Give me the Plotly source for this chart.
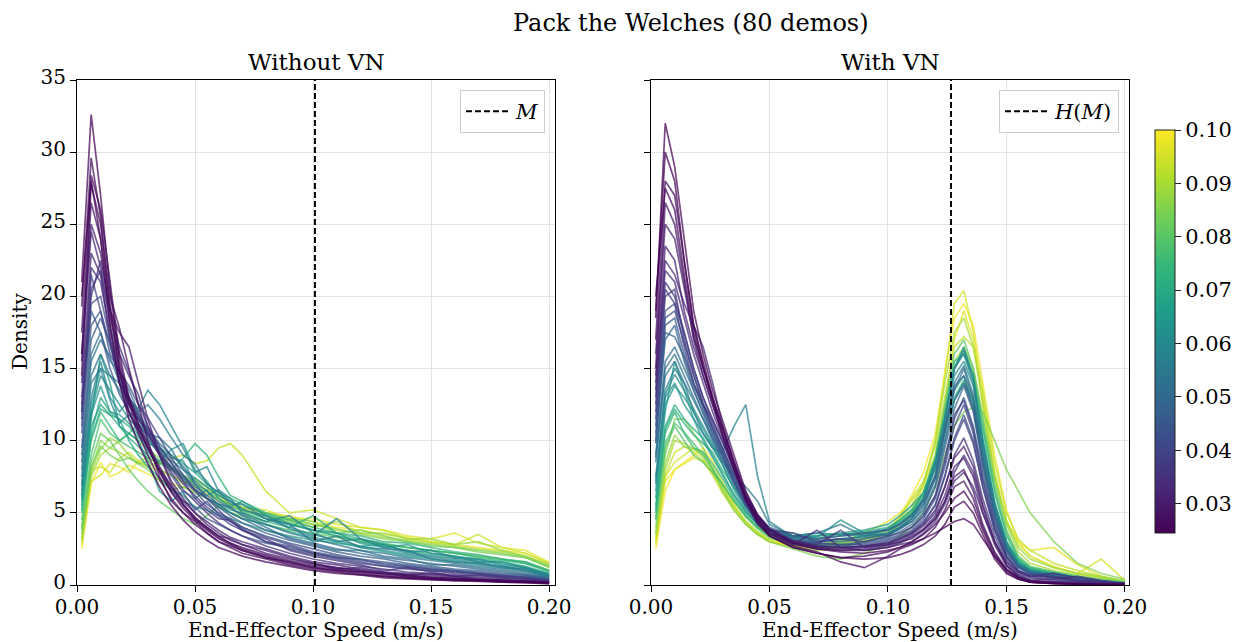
import plotly.graph_objects as go
from plotly.colors import sample_colorscale

# ---------------- data ----------------
TITLE = "Pack the Welches (80 demos)"
PANEL_TITLES = ["Without VN", "With VN"]
X_LABEL = "End-Effector Speed (m/s)"
Y_LABEL = "Density"
CMIN, CMAX = 0.0245, 0.1
CBAR_TICKS = [0.03, 0.04, 0.05, 0.06, 0.07, 0.08, 0.09, 0.10]
X_TICKS = [0.00, 0.05, 0.10, 0.15, 0.20]
Y_TICKS = [0, 5, 10, 15, 20, 25, 30, 35]
M_LEFT = 0.1008      # M
M_RIGHT = 0.1266     # H(M)

LX = [0.002, 0.006, 0.010, 0.014, 0.018, 0.022, 0.026, 0.030, 0.035, 0.040,
      0.045, 0.050, 0.055, 0.060, 0.065, 0.070, 0.080, 0.090, 0.100, 0.110,
      0.120, 0.130, 0.140, 0.150, 0.160, 0.170, 0.180, 0.190, 0.200]

left_c = [0.025, 0.026, 0.027, 0.028, 0.030, 0.032, 0.035, 0.038, 0.041, 0.044,
          0.047, 0.050, 0.054, 0.058, 0.062, 0.066, 0.070, 0.074, 0.078, 0.082,
          0.086, 0.090, 0.094, 0.098,
          0.025, 0.028, 0.033, 0.036, 0.040, 0.045, 0.052, 0.056, 0.060, 0.064,
          0.068, 0.072, 0.084, 0.088, 0.096]
left_y = [
    [21.0, 32.6, 27.0, 20.5, 15.5, 12.8, 11.0, 9.6, 7.8, 6.4, 5.3, 4.5, 3.8, 3.2, 2.8, 2.4, 1.9, 1.5, 1.2, 1.0, 0.8, 0.6, 0.5, 0.4, 0.35, 0.3, 0.25, 0.2, 0.15],
    [19.3, 29.6, 25.5, 19.0, 14.8, 12.0, 10.5, 9.0, 7.3, 6.0, 5.0, 4.2, 3.6, 3.0, 2.6, 2.2, 1.8, 1.4, 1.1, 0.9, 0.7, 0.6, 0.5, 0.4, 0.3, 0.3, 0.2, 0.2, 0.1],
    [17.5, 28.4, 26.0, 21.0, 16.0, 13.0, 11.2, 9.8, 8.2, 6.8, 5.6, 4.7, 4.0, 3.4, 2.9, 2.5, 2.0, 1.6, 1.3, 1.1, 0.9, 0.7, 0.6, 0.5, 0.4, 0.35, 0.3, 0.2, 0.15],
    [16.0, 26.5, 24.0, 19.5, 15.0, 12.5, 10.8, 9.5, 7.9, 6.5, 5.5, 4.6, 3.9, 3.3, 2.9, 2.6, 2.1, 1.7, 1.4, 1.2, 1.0, 0.8, 0.6, 0.5, 0.4, 0.35, 0.3, 0.25, 0.2],
    [15.5, 25.0, 23.0, 19.0, 17.5, 16.5, 14.0, 11.5, 9.0, 7.2, 6.0, 5.0, 4.2, 3.6, 3.1, 2.8, 2.2, 1.8, 1.5, 1.2, 1.0, 0.8, 0.7, 0.6, 0.5, 0.4, 0.3, 0.25, 0.2],
    [14.0, 23.0, 21.5, 17.0, 14.0, 12.0, 10.8, 9.5, 8.0, 6.8, 5.8, 5.0, 4.4, 3.8, 3.3, 3.0, 2.5, 2.0, 1.6, 1.4, 1.1, 0.9, 0.8, 0.7, 0.6, 0.5, 0.4, 0.3, 0.2],
    [13.0, 22.0, 21.0, 17.5, 14.5, 12.5, 11.5, 10.5, 9.0, 7.8, 6.6, 5.8, 5.0, 4.3, 3.8, 3.4, 2.7, 2.2, 1.8, 1.5, 1.3, 1.1, 0.9, 0.8, 0.7, 0.6, 0.5, 0.4, 0.3],
    [12.0, 20.5, 21.8, 18.0, 15.0, 13.0, 11.8, 10.6, 9.2, 8.0, 7.0, 6.2, 5.4, 4.8, 4.2, 3.8, 3.0, 2.5, 2.1, 1.8, 1.5, 1.3, 1.1, 1.0, 0.8, 0.7, 0.6, 0.5, 0.3],
    [11.0, 19.5, 20.0, 17.0, 14.5, 13.0, 11.6, 10.4, 9.3, 8.1, 7.2, 6.5, 5.6, 5.0, 4.6, 4.0, 3.3, 2.8, 2.3, 2.0, 1.7, 1.5, 1.3, 1.1, 1.0, 0.8, 0.7, 0.5, 0.3],
    [10.5, 18.0, 19.0, 16.5, 14.2, 12.8, 11.5, 10.5, 9.0, 7.6, 6.4, 5.2, 5.8, 4.9, 4.4, 4.0, 3.4, 2.9, 2.5, 2.1, 1.8, 1.6, 1.4, 1.2, 1.0, 0.9, 0.7, 0.6, 0.4],
    [9.5, 17.0, 18.5, 16.8, 14.0, 12.6, 11.2, 10.2, 9.0, 8.2, 7.4, 6.6, 6.0, 5.4, 4.8, 4.3, 3.6, 3.1, 2.7, 2.3, 2.0, 1.8, 1.5, 1.3, 1.1, 1.0, 0.8, 0.7, 0.4],
    [9.0, 16.0, 17.5, 15.5, 14.8, 13.5, 12.0, 10.8, 9.5, 8.4, 7.6, 6.8, 6.2, 5.6, 5.0, 4.6, 3.8, 3.3, 2.9, 2.5, 2.2, 1.9, 1.7, 1.5, 1.3, 1.1, 0.9, 0.7, 0.5],
    [8.0, 14.5, 16.0, 14.5, 13.5, 12.0, 11.5, 10.8, 9.8, 9.0, 8.2, 7.2, 6.5, 5.8, 5.3, 4.9, 4.2, 3.6, 3.2, 2.8, 2.4, 2.2, 1.9, 1.7, 1.5, 1.3, 1.1, 0.9, 0.5],
    [7.0, 13.0, 15.5, 13.0, 12.0, 12.8, 12.2, 13.5, 12.5, 11.0, 9.5, 7.8, 8.2, 6.5, 5.8, 5.2, 4.8, 3.9, 3.4, 4.6, 3.2, 2.6, 2.2, 2.0, 1.8, 1.6, 1.3, 1.0, 0.6],
    [6.5, 12.0, 14.5, 13.5, 12.5, 11.5, 10.8, 10.0, 9.2, 8.6, 8.0, 7.4, 6.8, 6.2, 5.8, 5.3, 4.6, 4.0, 3.5, 3.1, 2.7, 2.4, 2.1, 1.9, 1.7, 1.5, 1.3, 1.1, 0.7],
    [6.0, 11.5, 16.0, 14.0, 11.0, 10.5, 10.0, 8.6, 6.5, 5.8, 6.5, 6.0, 6.6, 5.4, 5.0, 4.6, 4.2, 3.7, 3.3, 3.0, 2.6, 2.3, 2.0, 1.8, 1.6, 1.4, 1.2, 1.0, 0.6],
    [5.5, 10.5, 13.0, 12.0, 11.5, 11.0, 10.2, 9.8, 9.5, 9.0, 8.4, 7.8, 7.0, 6.4, 6.0, 5.6, 4.9, 4.3, 3.8, 3.4, 3.0, 2.7, 2.4, 2.2, 2.0, 1.8, 1.6, 1.3, 0.8],
    [5.0, 10.0, 12.0, 11.0, 10.0, 10.5, 11.2, 10.5, 9.0, 8.0, 8.8, 9.8, 9.0, 7.5, 6.2, 5.8, 5.0, 4.5, 4.0, 3.6, 3.2, 2.9, 2.6, 2.4, 2.2, 1.9, 1.7, 1.5, 0.9],
    [4.5, 9.0, 11.5, 10.5, 10.0, 9.6, 9.2, 8.8, 8.4, 8.0, 7.6, 7.0, 6.5, 6.0, 5.5, 5.1, 4.6, 4.2, 3.8, 3.4, 3.1, 2.8, 2.6, 2.4, 2.2, 2.0, 1.8, 1.5, 1.0],
    [4.0, 8.5, 10.5, 10.0, 9.0, 8.0, 7.2, 6.5, 5.8, 5.2, 4.6, 4.2, 4.8, 5.5, 5.0, 4.6, 4.2, 3.8, 3.6, 3.3, 3.0, 2.8, 2.6, 2.4, 2.2, 2.0, 1.8, 1.6, 1.0],
    [3.5, 8.0, 10.0, 9.5, 10.0, 10.5, 10.0, 9.4, 8.8, 8.2, 7.6, 7.2, 6.8, 6.2, 5.8, 5.4, 5.0, 4.6, 4.2, 3.9, 3.5, 3.2, 3.0, 2.8, 2.6, 2.4, 2.2, 1.9, 1.2],
    [3.0, 7.5, 9.0, 9.5, 9.2, 8.8, 8.5, 8.2, 8.6, 8.0, 7.4, 7.0, 6.6, 6.2, 5.6, 5.2, 4.8, 4.5, 4.2, 3.8, 3.6, 3.3, 3.1, 2.9, 2.7, 2.5, 2.3, 2.0, 1.3],
    [4.0, 8.0, 8.2, 7.8, 8.8, 9.2, 8.6, 8.8, 8.4, 8.8, 9.0, 8.4, 8.6, 9.5, 9.8, 9.0, 6.5, 5.0, 5.2, 4.6, 4.0, 3.8, 3.2, 3.0, 2.8, 3.5, 2.6, 2.2, 1.5],
    [2.5, 7.0, 8.5, 7.5, 7.8, 8.3, 8.0, 7.7, 7.3, 7.0, 6.8, 6.5, 6.2, 6.0, 5.6, 5.3, 5.0, 4.8, 4.4, 4.0, 3.8, 3.5, 3.3, 3.0, 2.8, 2.6, 2.4, 2.2, 1.5],
    [20.0, 28.0, 24.0, 18.0, 14.0, 11.5, 9.8, 8.4, 6.8, 5.5, 4.5, 3.7, 3.1, 2.6, 2.3, 2.0, 1.6, 1.3, 1.0, 0.8, 0.7, 0.5, 0.4, 0.35, 0.3, 0.25, 0.2, 0.15, 0.1],
    [14.5, 27.8, 25.0, 20.0, 17.8, 15.0, 12.5, 10.0, 7.5, 5.8, 5.0, 4.4, 3.6, 3.0, 2.7, 2.4, 1.9, 1.6, 1.2, 1.0, 0.9, 0.8, 0.7, 0.5, 0.4, 0.35, 0.3, 0.25, 0.2],
    [16.0, 24.5, 22.0, 18.5, 16.0, 14.5, 13.2, 11.0, 9.0, 7.0, 5.6, 4.6, 4.0, 3.4, 3.2, 2.8, 2.4, 1.9, 1.5, 1.1, 1.2, 0.9, 0.7, 0.8, 0.6, 0.4, 0.3, 0.3, 0.2],
    [12.5, 20.0, 22.5, 19.0, 16.5, 14.8, 12.6, 11.0, 9.6, 8.5, 7.2, 6.0, 5.2, 4.6, 4.5, 3.8, 3.2, 2.4, 2.0, 1.7, 1.4, 1.0, 1.2, 0.9, 0.6, 0.7, 0.5, 0.4, 0.2],
    [11.5, 21.5, 19.0, 16.0, 14.8, 13.8, 12.5, 11.6, 10.2, 8.8, 7.6, 6.6, 6.0, 5.2, 4.4, 3.9, 3.0, 2.7, 2.2, 1.9, 1.6, 1.3, 1.2, 1.0, 0.9, 0.8, 0.6, 0.5, 0.3],
    [12.0, 19.0, 17.5, 15.0, 13.2, 12.0, 10.6, 9.4, 8.0, 6.6, 5.8, 5.4, 4.6, 4.2, 3.8, 3.4, 2.9, 2.6, 2.2, 1.9, 1.8, 1.4, 1.3, 1.1, 0.9, 0.8, 0.6, 0.6, 0.4],
    [8.5, 15.5, 17.0, 15.8, 14.0, 12.5, 11.8, 10.5, 10.2, 9.4, 8.0, 7.0, 6.0, 5.6, 5.4, 4.8, 4.0, 3.2, 2.8, 2.4, 2.4, 2.0, 1.8, 1.4, 1.4, 1.2, 1.0, 0.8, 0.5],
    [7.5, 14.0, 15.0, 14.5, 14.0, 13.0, 12.0, 12.5, 11.5, 10.2, 9.0, 8.4, 7.0, 6.4, 5.6, 5.6, 4.6, 4.2, 3.0, 3.4, 2.6, 2.5, 2.4, 1.8, 1.6, 1.5, 1.2, 1.1, 0.6],
    [6.8, 12.5, 15.0, 12.8, 11.2, 11.8, 11.0, 10.4, 9.4, 8.8, 8.6, 7.0, 6.2, 6.6, 6.0, 5.0, 4.4, 4.8, 3.6, 3.0, 3.2, 2.8, 2.3, 2.4, 1.9, 1.8, 1.4, 1.2, 0.7],
    [6.2, 11.8, 13.8, 12.0, 11.8, 11.2, 10.4, 9.2, 8.6, 9.4, 9.8, 8.0, 7.2, 6.0, 5.4, 5.8, 4.8, 4.2, 3.8, 3.6, 2.9, 2.6, 2.8, 2.2, 2.0, 1.6, 1.6, 1.2, 0.7],
    [5.8, 11.0, 12.5, 11.8, 11.5, 10.0, 9.0, 8.2, 7.4, 6.6, 6.2, 5.4, 5.2, 4.8, 4.6, 4.3, 3.8, 3.4, 3.1, 2.9, 2.7, 2.8, 2.3, 2.1, 1.9, 1.7, 1.5, 1.2, 0.8],
    [5.2, 10.2, 12.2, 11.8, 11.0, 10.2, 9.6, 9.0, 8.5, 8.2, 7.4, 6.6, 6.0, 5.6, 5.2, 5.0, 4.4, 4.0, 4.8, 3.6, 3.4, 3.0, 2.9, 2.6, 2.3, 2.1, 1.8, 1.6, 1.0],
    [3.8, 8.2, 9.6, 9.0, 8.6, 8.8, 8.4, 8.0, 7.2, 6.6, 6.8, 6.4, 6.0, 5.4, 5.0, 4.8, 4.4, 4.6, 4.4, 3.6, 3.8, 3.4, 3.0, 2.7, 2.6, 2.3, 2.1, 1.9, 1.3],
    [3.2, 7.8, 9.4, 10.2, 9.8, 9.0, 8.4, 8.6, 8.0, 7.6, 7.0, 7.4, 6.8, 6.0, 5.4, 5.2, 4.8, 4.4, 4.0, 4.4, 3.6, 3.6, 3.2, 3.2, 2.8, 3.0, 2.4, 2.0, 1.4],
    [2.8, 7.2, 7.6, 8.4, 8.2, 7.8, 8.6, 8.2, 7.9, 7.6, 7.2, 6.8, 6.4, 5.8, 5.6, 5.4, 5.2, 4.6, 4.6, 4.2, 4.0, 3.8, 3.4, 3.2, 3.6, 2.9, 2.6, 2.4, 1.6],
]

RX = [0.002, 0.006, 0.010, 0.014, 0.018, 0.022, 0.026, 0.030, 0.035, 0.040,
      0.045, 0.050, 0.060, 0.070, 0.080, 0.090, 0.100, 0.105, 0.110, 0.115,
      0.120, 0.124, 0.128, 0.132, 0.136, 0.140, 0.145, 0.150, 0.155, 0.160,
      0.170, 0.180, 0.190, 0.200]

right_c = [0.025, 0.026, 0.027, 0.029, 0.031, 0.033, 0.036, 0.039, 0.042, 0.045,
           0.048, 0.051, 0.054, 0.058, 0.062, 0.066, 0.070, 0.075, 0.080, 0.085,
           0.090, 0.095, 0.099,
           0.025, 0.030, 0.034, 0.038, 0.043, 0.047, 0.053, 0.060, 0.064, 0.072,
           0.078, 0.088, 0.093, 0.097]
right_y = [
    [18.5, 32.0, 29.0, 24.0, 19.0, 16.0, 13.5, 11.5, 9.0, 6.5, 4.8, 3.8, 2.9, 2.5, 2.3, 2.2, 2.4, 2.6, 2.9, 3.2, 3.6, 4.0, 4.4, 4.6, 4.2, 3.2, 2.0, 1.1, 0.5, 0.2, 0.1, 0.05, 0.03, 0.02],
    [20.0, 27.5, 26.0, 21.5, 17.5, 15.0, 12.8, 10.5, 8.0, 5.8, 4.2, 3.4, 2.6, 2.2, 1.9, 2.0, 2.3, 2.6, 3.0, 3.5, 4.2, 5.0, 6.0, 6.5, 5.5, 3.8, 2.0, 0.9, 0.4, 0.2, 0.1, 0.05, 0.03, 0.02],
    [17.0, 28.0, 27.0, 22.5, 18.0, 15.5, 13.0, 11.0, 8.5, 6.0, 4.5, 3.5, 2.7, 2.3, 1.6, 1.2, 2.0, 2.5, 2.8, 3.2, 4.0, 5.2, 6.8, 7.2, 6.0, 4.0, 2.2, 1.0, 0.5, 0.2, 0.1, 0.05, 0.03, 0.02],
    [15.0, 26.5, 25.0, 21.0, 17.0, 14.5, 12.5, 10.5, 8.2, 6.2, 4.6, 3.6, 2.8, 2.5, 2.4, 2.4, 2.6, 2.9, 3.3, 3.8, 4.6, 5.8, 7.5, 8.0, 6.5, 4.2, 2.3, 1.1, 0.5, 0.3, 0.15, 0.1, 0.05, 0.03],
    [14.5, 23.5, 22.5, 19.0, 16.5, 14.5, 12.5, 10.5, 8.0, 6.0, 4.6, 3.6, 2.9, 2.6, 2.5, 2.6, 2.8, 3.0, 3.4, 3.9, 4.8, 6.2, 8.2, 8.8, 7.5, 5.0, 2.8, 1.3, 0.6, 0.3, 0.2, 0.1, 0.05, 0.03],
    [13.5, 22.5, 21.5, 19.5, 18.0, 16.5, 14.0, 11.2, 8.5, 6.2, 4.8, 3.8, 3.0, 2.6, 2.4, 2.5, 2.7, 3.0, 3.2, 3.8, 4.6, 5.8, 7.8, 9.0, 7.8, 5.4, 3.0, 1.4, 0.7, 0.4, 0.4, 0.6, 0.3, 0.1],
    [13.0, 21.0, 20.0, 17.5, 15.0, 13.0, 11.5, 10.0, 8.0, 6.2, 4.8, 3.9, 3.1, 2.8, 3.8, 2.6, 2.8, 3.1, 3.5, 4.1, 5.0, 6.8, 9.0, 10.2, 8.6, 6.0, 3.4, 1.6, 0.8, 0.5, 0.3, 0.2, 0.1, 0.05],
    [12.0, 20.0, 20.5, 17.0, 14.5, 12.5, 11.0, 9.6, 7.8, 6.0, 4.7, 3.8, 3.0, 2.7, 2.6, 2.7, 3.0, 3.3, 3.7, 4.4, 5.5, 7.5, 10.0, 11.5, 9.8, 6.8, 3.8, 1.8, 0.9, 0.6, 0.4, 0.2, 0.1, 0.05],
    [11.5, 19.0, 19.5, 17.5, 15.0, 13.0, 11.2, 9.5, 7.5, 5.8, 4.6, 3.8, 3.1, 2.9, 2.8, 2.8, 3.1, 3.4, 3.8, 4.6, 6.0, 8.2, 11.0, 12.5, 10.5, 7.2, 4.0, 2.0, 1.0, 0.7, 0.8, 0.4, 0.2, 0.1],
    [10.5, 18.0, 18.5, 16.0, 14.0, 12.2, 10.5, 9.0, 7.2, 5.6, 4.4, 3.6, 3.0, 2.8, 2.7, 2.9, 3.2, 3.5, 4.0, 4.8, 6.2, 8.8, 11.5, 13.0, 11.0, 7.8, 4.4, 2.2, 1.2, 0.8, 0.5, 0.3, 0.2, 0.1],
    [10.0, 17.0, 18.0, 15.5, 13.5, 11.8, 10.2, 8.8, 7.0, 5.4, 4.3, 3.6, 3.0, 2.9, 2.8, 3.0, 3.3, 3.7, 4.2, 5.0, 6.8, 9.5, 12.2, 13.8, 12.0, 8.2, 4.6, 2.3, 1.2, 0.8, 0.5, 0.3, 0.2, 0.1],
    [9.0, 15.5, 16.5, 15.0, 13.5, 12.0, 10.5, 9.2, 7.4, 5.8, 4.6, 3.8, 3.2, 3.0, 3.0, 3.2, 3.5, 3.9, 4.4, 5.4, 7.4, 10.5, 13.5, 15.0, 12.8, 8.8, 5.0, 2.5, 1.3, 0.9, 0.6, 0.3, 0.2, 0.1],
    [8.5, 14.5, 15.5, 14.0, 12.8, 11.5, 10.0, 8.6, 7.6, 6.8, 5.8, 4.2, 3.4, 3.6, 4.2, 3.4, 3.6, 4.0, 4.6, 5.6, 7.6, 10.8, 14.0, 15.2, 13.2, 9.2, 5.2, 2.6, 1.4, 0.9, 0.6, 0.4, 0.2, 0.1],
    [7.5, 13.5, 15.0, 14.0, 12.0, 10.5, 9.5, 9.2, 11.0, 12.5, 7.5, 4.4, 3.3, 3.2, 3.4, 3.5, 3.8, 4.2, 4.8, 6.0, 8.5, 11.5, 15.0, 16.3, 14.2, 10.0, 5.6, 2.8, 1.5, 1.0, 0.7, 0.4, 0.2, 0.1],
    [7.0, 13.0, 14.0, 12.5, 11.5, 10.5, 9.5, 8.4, 6.8, 5.4, 4.4, 3.7, 3.4, 3.3, 4.5, 3.6, 3.4, 3.9, 4.6, 5.9, 8.2, 11.2, 14.5, 15.5, 13.8, 9.8, 5.4, 2.7, 1.5, 1.0, 0.7, 0.4, 0.2, 0.1],
    [6.0, 12.0, 15.5, 13.5, 11.5, 10.0, 8.8, 7.6, 6.2, 5.0, 4.2, 3.6, 3.3, 3.4, 3.6, 3.8, 4.2, 4.8, 5.5, 6.4, 8.6, 11.5, 15.0, 16.5, 14.5, 10.2, 5.8, 3.0, 1.6, 1.0, 0.7, 0.5, 0.3, 0.1],
    [5.5, 11.0, 12.5, 11.5, 10.8, 10.2, 9.0, 7.8, 6.3, 5.1, 4.2, 3.6, 3.4, 3.4, 3.5, 3.7, 4.0, 4.5, 5.2, 6.2, 8.4, 11.0, 13.5, 14.5, 13.0, 9.6, 5.6, 3.0, 1.7, 1.1, 0.8, 0.5, 0.3, 0.15],
    [5.0, 10.5, 12.0, 10.5, 9.5, 9.2, 8.4, 7.4, 6.0, 4.8, 4.0, 3.5, 3.1, 3.0, 3.1, 3.4, 3.9, 4.5, 5.2, 6.4, 8.8, 12.0, 15.5, 16.0, 14.5, 10.8, 6.4, 3.4, 1.8, 1.2, 0.8, 0.5, 0.3, 0.15],
    [4.5, 9.5, 11.0, 10.0, 9.0, 8.5, 7.8, 7.0, 5.8, 4.7, 3.9, 3.3, 2.8, 2.7, 2.9, 3.2, 3.6, 4.2, 5.0, 6.4, 9.0, 12.5, 16.0, 17.0, 15.0, 11.5, 7.0, 3.8, 2.0, 1.3, 0.9, 0.6, 0.4, 0.2],
    [4.0, 9.0, 11.5, 11.5, 10.5, 9.5, 8.0, 6.6, 5.2, 4.2, 3.5, 3.0, 2.5, 2.0, 1.8, 2.2, 2.8, 3.4, 4.0, 5.0, 6.8, 9.0, 11.0, 12.0, 12.3, 12.0, 10.0, 8.0, 6.5, 5.0, 3.0, 1.5, 0.8, 0.4],
    [3.5, 8.0, 10.0, 9.8, 9.5, 8.8, 7.8, 6.8, 5.5, 4.4, 3.7, 3.2, 2.9, 2.8, 3.0, 3.4, 3.9, 4.6, 5.5, 7.0, 10.0, 14.0, 17.5, 18.5, 16.5, 12.5, 7.5, 4.2, 2.3, 1.5, 1.0, 0.7, 0.5, 0.2],
    [3.0, 7.5, 8.5, 9.0, 9.5, 9.2, 8.0, 6.8, 5.4, 4.3, 3.6, 3.1, 2.8, 2.7, 2.9, 3.2, 3.6, 4.2, 5.2, 6.8, 10.0, 14.5, 19.5, 20.4, 17.5, 13.0, 7.8, 4.5, 2.8, 2.0, 1.2, 0.8, 1.8, 0.3],
    [2.5, 6.5, 8.0, 8.5, 9.0, 9.5, 8.6, 7.2, 5.6, 4.3, 3.5, 3.0, 2.7, 2.6, 2.8, 3.1, 3.8, 4.8, 6.2, 7.8, 10.5, 14.8, 18.5, 19.5, 18.0, 14.0, 9.0, 5.2, 3.0, 2.0, 1.3, 0.8, 0.5, 0.2],
    [19.0, 30.0, 28.0, 22.5, 18.0, 15.2, 12.8, 10.8, 8.4, 6.0, 4.4, 3.4, 2.6, 2.2, 1.9, 1.8, 1.9, 2.1, 2.4, 2.8, 3.4, 4.2, 5.4, 5.8, 5.0, 3.5, 1.8, 0.8, 0.4, 0.2, 0.1, 0.05, 0.03, 0.02],
    [16.0, 25.0, 24.0, 20.5, 17.2, 15.0, 13.0, 11.0, 8.6, 6.4, 4.9, 3.9, 3.0, 2.7, 2.6, 2.7, 2.9, 3.2, 3.6, 4.2, 5.2, 6.8, 8.8, 9.6, 8.2, 5.6, 3.0, 1.4, 0.6, 0.3, 0.2, 0.1, 0.05, 0.03],
    [14.0, 21.8, 21.0, 18.5, 16.0, 14.0, 12.0, 10.2, 8.0, 6.0, 4.6, 3.6, 2.8, 3.8, 2.6, 2.4, 2.6, 2.8, 3.0, 3.6, 4.4, 5.6, 7.2, 7.8, 6.8, 5.0, 3.0, 1.6, 0.9, 0.6, 0.6, 0.3, 0.2, 0.1],
    [12.5, 20.5, 19.5, 16.5, 14.0, 12.5, 11.4, 10.0, 8.0, 6.0, 4.6, 3.8, 3.6, 3.0, 3.2, 3.0, 3.4, 3.6, 4.0, 4.8, 6.2, 8.5, 11.8, 12.8, 10.8, 7.4, 4.2, 2.0, 1.0, 0.6, 0.8, 0.5, 0.2, 0.1],
    [11.0, 18.5, 19.0, 16.8, 14.6, 12.6, 10.8, 9.2, 7.2, 5.6, 4.4, 3.6, 3.0, 2.7, 2.6, 2.7, 2.9, 3.2, 3.6, 4.3, 5.6, 7.6, 10.2, 11.8, 10.0, 6.8, 3.8, 1.9, 1.0, 0.7, 0.5, 0.3, 0.2, 0.1],
    [9.8, 17.5, 17.2, 15.8, 13.8, 12.4, 10.8, 9.4, 7.6, 6.0, 4.8, 4.0, 3.4, 3.2, 3.4, 3.6, 3.8, 4.2, 4.8, 5.8, 7.6, 10.8, 13.8, 14.5, 12.2, 8.4, 4.8, 2.4, 1.3, 0.8, 0.5, 0.3, 0.2, 0.1],
    [8.8, 15.0, 16.0, 14.5, 13.0, 11.5, 10.2, 9.0, 7.2, 5.6, 4.5, 3.8, 3.3, 3.1, 3.2, 3.3, 3.5, 3.9, 4.4, 5.2, 7.0, 9.8, 12.8, 14.0, 12.2, 8.6, 4.9, 2.5, 1.3, 0.9, 0.6, 0.3, 0.2, 0.1],
    [7.2, 13.2, 14.6, 13.5, 12.2, 11.0, 9.8, 8.6, 7.0, 5.6, 4.6, 3.9, 3.4, 3.6, 3.5, 3.6, 3.9, 4.3, 4.9, 6.0, 8.2, 11.6, 15.0, 16.0, 14.0, 9.8, 5.6, 2.8, 1.5, 1.0, 0.7, 0.4, 0.2, 0.1],
    [6.5, 12.5, 13.8, 13.0, 12.0, 10.8, 9.6, 8.4, 6.6, 5.2, 4.2, 3.6, 3.2, 3.0, 3.2, 3.4, 3.6, 4.0, 4.6, 5.6, 7.4, 10.0, 12.8, 14.0, 12.6, 9.0, 5.2, 2.7, 1.4, 1.0, 0.7, 0.4, 0.2, 0.1],
    [5.2, 10.8, 12.2, 11.2, 10.4, 9.8, 9.2, 8.0, 6.8, 5.6, 4.6, 3.8, 3.6, 3.2, 3.6, 3.4, 3.8, 4.4, 5.0, 6.0, 8.0, 10.6, 13.0, 14.2, 12.8, 9.4, 5.6, 3.0, 1.7, 1.1, 0.8, 0.5, 0.3, 0.15],
    [4.6, 9.8, 11.2, 10.6, 9.8, 9.0, 8.0, 7.0, 5.8, 4.8, 4.0, 3.4, 2.9, 2.6, 2.7, 3.0, 3.4, 4.0, 4.8, 6.0, 8.4, 11.6, 15.0, 16.2, 14.6, 11.0, 6.6, 3.6, 1.9, 1.2, 0.9, 0.6, 0.3, 0.15],
    [3.6, 8.4, 10.4, 9.6, 9.4, 9.0, 8.2, 7.0, 5.8, 4.8, 4.0, 3.4, 2.6, 2.4, 2.6, 3.0, 3.6, 4.2, 5.0, 6.4, 8.6, 12.0, 15.5, 16.5, 15.0, 11.8, 7.4, 4.4, 2.6, 1.8, 1.2, 0.8, 0.6, 0.3],
    [3.2, 7.6, 9.2, 9.6, 9.2, 8.6, 7.6, 6.4, 5.2, 4.2, 3.5, 3.0, 2.6, 2.5, 2.7, 3.0, 3.6, 4.6, 6.0, 7.2, 9.6, 13.0, 16.5, 17.2, 16.5, 13.5, 8.5, 5.0, 3.2, 2.4, 1.5, 1.0, 0.6, 0.2],
    [2.8, 7.2, 8.0, 8.4, 8.8, 8.6, 7.8, 6.6, 5.4, 4.4, 3.6, 3.0, 2.8, 2.8, 3.0, 3.6, 4.4, 5.0, 5.8, 7.0, 9.0, 12.5, 17.0, 19.0, 17.0, 12.8, 7.6, 4.4, 3.0, 2.4, 2.6, 1.4, 0.6, 0.2],
]

# ---------------- styling ----------------
WIN_W, WIN_H = 1239, 642
OFF = 8                      # page body margin of the browser
W, H = WIN_W - OFF, WIN_H - OFF
FONT = "DejaVu Serif"
TICK_SIZE = 20
LAB_SIZE = 20
SUB_SIZE = 23
TITLE_SIZE = 24


def fx(p):
    return (p - OFF) / W


def fy(p):
    return 1 - (p - OFF) / H


def color_of(c):
    return sample_colorscale("Viridis", [(c - CMIN) / (CMAX - CMIN)])[0]


fig = go.Figure()

panels = [("x", "y", LX, left_c, left_y), ("x2", "y2", RX, right_c, right_y)]
for xa, ya, xs, cs, ys in panels:
    order = sorted(range(len(cs)), key=lambda i: -cs[i])
    for i in order:
        fig.add_trace(go.Scatter(
            x=xs, y=ys[i], mode="lines", xaxis=xa, yaxis=ya,
            line=dict(color=color_of(cs[i]), width=1.7),
            opacity=0.72, showlegend=False, hoverinfo="skip"))

DASH = "6px,3px"
fig.add_trace(go.Scatter(x=[M_LEFT, M_LEFT], y=[Y_TICKS[0], Y_TICKS[-1]], mode="lines",
                         xaxis="x", yaxis="y", name="<i>M</i>",
                         line=dict(color="black", width=2, dash=DASH),
                         showlegend=True, legend="legend"))
fig.add_trace(go.Scatter(x=[M_RIGHT, M_RIGHT], y=[Y_TICKS[0], Y_TICKS[-1]], mode="lines",
                         xaxis="x2", yaxis="y2", name="<i>H</i>(<i>M</i>)",
                         line=dict(color="black", width=2, dash=DASH),
                         showlegend=True, legend="legend2"))

# colorbar carrier (invisible markers)
fig.add_trace(go.Scatter(
    x=[LX[0], LX[0]], y=[left_y[0][0], left_y[0][0]], mode="markers",
    xaxis="x", yaxis="y", showlegend=False, hoverinfo="skip",
    marker=dict(size=0.1, opacity=0, color=[CMIN, CMAX], cmin=CMIN, cmax=CMAX,
                colorscale="Viridis", showscale=True,
                colorbar=dict(
                    x=fx(1155), xanchor="left", y=fy(331.5), yanchor="middle",
                    len=403, lenmode="pixels", thickness=20, thicknessmode="pixels",
                    outlinewidth=1, outlinecolor="#222222", xpad=0, ypad=0,
                    tickvals=CBAR_TICKS, ticktext=[f"{v:.2f}" for v in CBAR_TICKS],
                    ticks="outside", ticklen=6, tickwidth=1.2, tickcolor="#222222",
                    tickfont=dict(family=FONT, size=21, color="black")))))

ydom = [fy(585), fy(80)]
axis_common = dict(showline=True, linecolor="black", linewidth=1.2, mirror=True,
                   ticks="outside", ticklen=6, tickwidth=1.2, tickcolor="black",
                   showgrid=True, gridcolor="#e3e3e3", gridwidth=1, zeroline=False,
                   automargin=False,
                   tickfont=dict(family=FONT, size=TICK_SIZE, color="black"))

legend_common = dict(xanchor="right", yanchor="top", bgcolor="white",
                     bordercolor="#cccccc", borderwidth=1, itemwidth=45,
                     font=dict(family=FONT, size=21, color="black"))

fig.update_layout(
    width=W, height=H, margin=dict(l=0, r=0, t=0, b=0, autoexpand=False),
    plot_bgcolor="white", paper_bgcolor="white",
    font=dict(family=FONT, color="black"),
    xaxis=dict(domain=[fx(77), fx(555)], range=[0, 0.2025], anchor="y",
               ticklabelstandoff=-2,
               tickvals=X_TICKS, ticktext=[f"{v:.2f}" for v in X_TICKS], **axis_common),
    yaxis=dict(domain=ydom, range=[0, 35], anchor="x", tickvals=Y_TICKS,
               ticklabelshift=-3, **axis_common),
    xaxis2=dict(domain=[fx(651), fx(1129)], range=[0, 0.2017], anchor="y2",
                ticklabelstandoff=-2,
                tickvals=X_TICKS, ticktext=[f"{v:.2f}" for v in X_TICKS], **axis_common),
    yaxis2=dict(domain=ydom, range=[0, 35], anchor="x2", tickvals=Y_TICKS,
                showticklabels=False, **axis_common),
    legend=dict(x=fx(545), y=fy(90), **legend_common),
    legend2=dict(x=fx(1119), y=fy(90), **legend_common),
)

annos = [
    (TITLE, 691, 23, TITLE_SIZE, 0),
    (PANEL_TITLES[0], 316, 62, SUB_SIZE, 0),
    (PANEL_TITLES[1], 890, 62, SUB_SIZE, 0),
    (X_LABEL, 316, 630, LAB_SIZE, 0),
    (X_LABEL, 890, 630, LAB_SIZE, 0),
    (Y_LABEL, 20, 332, LAB_SIZE, -90),
]
for text, px, py, size, ang in annos:
    fig.add_annotation(text=text, xref="paper", yref="paper", x=fx(px), y=fy(py),
                       showarrow=False, xanchor="center", yanchor="middle",
                       textangle=ang,
                       font=dict(family=FONT, size=size, color="black"))

fig.write_html("out.html")
